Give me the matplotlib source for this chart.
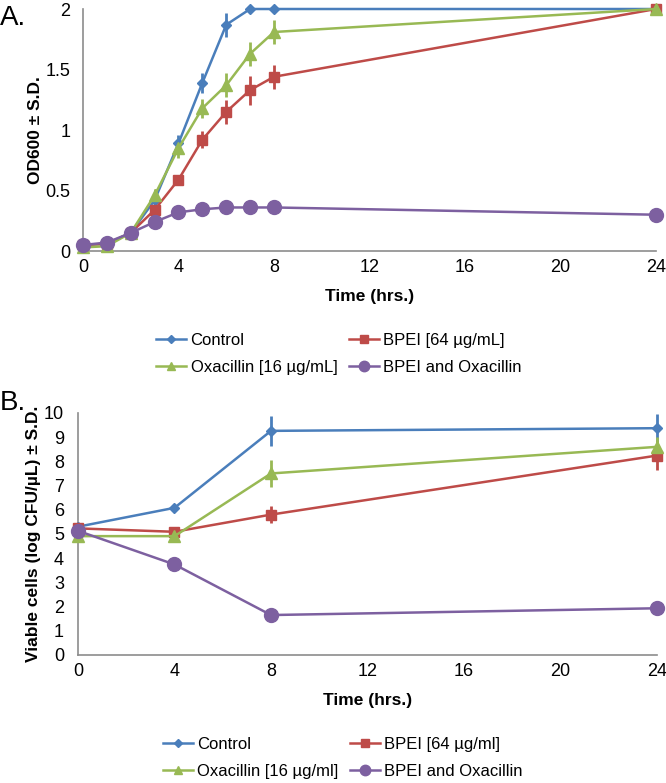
import matplotlib.pyplot as plt

plt.rcParams['font.family'] = ['Liberation Sans', 'DejaVu Sans']

# Panel A: OD600 growth curves
hours_a = [0, 1, 2, 3, 4, 5, 6, 7, 8, 24]
od_control = [0.05, 0.06, 0.15, 0.42, 0.89, 1.39, 1.87, 2.0, 2.0, 2.0]
od_control_sd = [0, 0, 0, 0.03, 0.07, 0.08, 0.1, 0.02, 0.02, 0.02]
od_bpei = [0.05, 0.06, 0.15, 0.34, 0.59, 0.92, 1.15, 1.33, 1.44, 2.0]
od_bpei_sd = [0, 0, 0, 0.04, 0.03, 0.07, 0.1, 0.12, 0.1, 0.02]
od_oxa = [0.03, 0.04, 0.15, 0.46, 0.85, 1.18, 1.37, 1.63, 1.81, 2.0]
od_oxa_sd = [0, 0, 0, 0.05, 0.08, 0.08, 0.1, 0.1, 0.1, 0.02]
od_combo = [0.05, 0.07, 0.15, 0.24, 0.32, 0.345, 0.36, 0.36, 0.36, 0.30]
od_combo_sd = [0, 0, 0, 0.02, 0.02, 0.02, 0.02, 0.02, 0.02, 0.02]

# Panel B: viable cell counts
hours_b = [0, 4, 8, 24]
cfu_control = [5.3, 6.08, 9.26, 9.37]
cfu_control_sd = [0.1, 0.15, 0.62, 0.6]
cfu_bpei = [5.23, 5.09, 5.8, 8.24]
cfu_bpei_sd = [0.1, 0.15, 0.35, 0.6]
cfu_oxa = [4.91, 4.91, 7.5, 8.6]
cfu_oxa_sd = [0.1, 0.15, 0.55, 0.4]
cfu_combo = [5.13, 3.74, 1.65, 1.93]
cfu_combo_sd = [0.1, 0.1, 0.1, 0.1]

labels_a = ['Control', 'BPEI [64 µg/mL]', 'Oxacillin [16 µg/mL]', 'BPEI and Oxacillin']
labels_b = ['Control', 'BPEI [64 µg/ml]', 'Oxacillin [16 µg/ml]', 'BPEI and Oxacillin']

colors = ['#4A7EBB', '#BE4B48', '#98B954', '#7D60A0']
markers = ['D', 's', '^', 'o']
msizes = [5.5, 7, 8, 10]

fig = plt.figure(figsize=(6.66, 7.83), dpi=100)
ax_a = fig.add_axes([0.1246, 0.6794, 0.8604, 0.3091])
ax_b = fig.add_axes([0.1171, 0.1635, 0.8694, 0.3091])


def draw(ax, x, series, errs, labels):
    handles = []
    for y, e, c, m, ms, lab in zip(series, errs, colors, markers, msizes, labels):
        ax.errorbar(x, y, yerr=e, fmt='none', ecolor=c, elinewidth=2, capsize=0,
                    clip_on=False, zorder=2)
        h, = ax.plot(x, y, color=c, marker=m, markersize=ms, lw=1.8,
                     label=lab, clip_on=False, zorder=3)
        handles.append(h)
    for s in ['top', 'right']:
        ax.spines[s].set_visible(False)
    for s in ['left', 'bottom']:
        ax.spines[s].set_color('#8c8c8c')
        ax.spines[s].set_linewidth(1.2)
    ax.set_xlim(0, 24)
    ax.set_xticks([0, 4, 8, 12, 16, 20, 24])
    ax.tick_params(length=0, labelsize=13, colors='black')
    ax.tick_params(axis='x', pad=6)
    ax.set_xlabel('Time (hrs.)', fontsize=12.5, fontweight='bold', labelpad=9)
    # legend fills row by row: Control, BPEI / Oxacillin, combo
    return [handles[0], handles[2], handles[1], handles[3]]


h_a = draw(ax_a, hours_a, [od_control, od_bpei, od_oxa, od_combo],
           [od_control_sd, od_bpei_sd, od_oxa_sd, od_combo_sd], labels_a)
ax_a.set_ylim(0, 2)
ax_a.set_yticks([0, 0.5, 1, 1.5, 2])
ax_a.set_yticklabels(['0', '0.5', '1', '1.5', '2'])
ax_a.tick_params(axis='y', pad=9)
ax_a.set_ylabel('OD600 ± S.D.', fontsize=12.5, fontweight='bold', labelpad=2)

h_b = draw(ax_b, hours_b, [cfu_control, cfu_bpei, cfu_oxa, cfu_combo],
           [cfu_control_sd, cfu_bpei_sd, cfu_oxa_sd, cfu_combo_sd], labels_b)
ax_b.set_ylim(0, 10)
ax_b.set_yticks(range(0, 11))
ax_b.tick_params(axis='y', pad=10)
ax_b.set_ylabel('Viable cells (log CFU/µL) ± S.D.', fontsize=12.5, fontweight='bold',
                labelpad=2)

leg_kw = dict(loc='center', ncol=2, frameon=False, fontsize=12, handlelength=1.8,
              handletextpad=0.25, columnspacing=0.7, borderpad=0, labelspacing=0.7,
              markerscale=0.75)
fig.legend(handles=h_a, bbox_to_anchor=(0.509, 0.5479), **leg_kw)
fig.legend(handles=h_b, bbox_to_anchor=(0.515, 0.0319), **leg_kw)

fig.text(0.0, 0.994, 'A.', fontsize=20, va='top', ha='left')
fig.text(0.0, 0.502, 'B.', fontsize=20, va='top', ha='left')

fig.savefig('out.png', dpi=100)
